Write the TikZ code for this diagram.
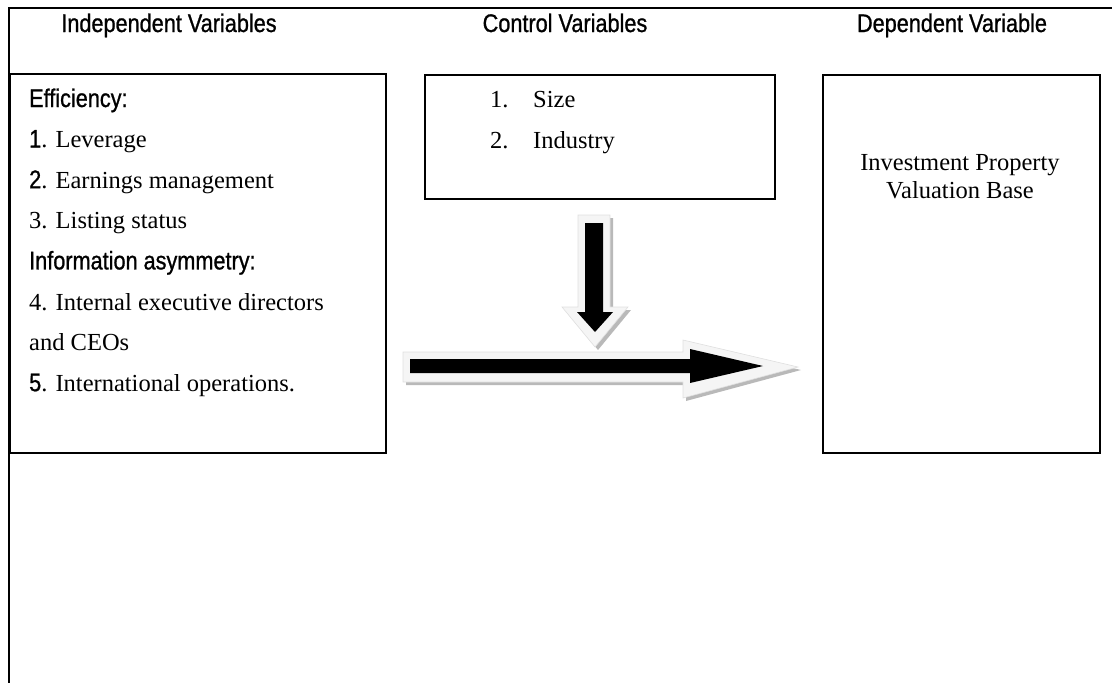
\documentclass[tikz,border=0pt]{standalone}
\usepackage{fontspec}
\setmainfont{Liberation Serif}
\newfontfamily\varfont[FakeStretch=0.85, FakeBold=0.9]{Liberation Sans}
\newcommand\varsf{\varfont\fontsize{25.5}{30}\selectfont}
\usetikzlibrary{positioning}

\begin{document}
\begin{tikzpicture}[
		x=1pt, y=-1pt,
		frame/.style={line width=2.2pt},
		box/.style={draw, line width=1.8pt, inner sep=0pt, anchor=north west},
		head/.style={anchor=base, inner sep=0pt, font=\varsf},
		item/.style={anchor=base west, inner sep=0pt, font=\fontsize{24.5}{28}\selectfont},
		shadow/.style={fill=gray!55},
		rim/.style={fill=gray!8, draw=gray!25, line width=0.6pt},
		core/.style={fill=black},
	]
		\useasboundingbox (0,0) rectangle (1112,683);
		\draw[frame] (9,683) -- (9,8) -- (1112,8);

		% headings
		\node [head] (indep head) at (169,32) {Independent Variables};
		\node [head] (ctrl head) at (565,32) {Control Variables};
		\node [head] (dep head) at (952,32) {Dependent Variable};

		% boxes
		\node [box, minimum width=376pt, minimum height=379pt] (indep) at (9,73) {};
		\node [box, minimum width=350pt, minimum height=124pt] (ctrl) at (424,74) {};
		\node [box, minimum width=277pt, minimum height=378pt] (dep) at (822,74) {};

		\foreach \txt [count=\i] in {{\varsf Efficiency:}, {{\varsf 1}. Leverage}, {{\varsf 2}. Earnings management},
				{3. Listing status}, {\varsf Information asymmetry:}, {4. Internal executive directors},
				{and CEOs}, {{\varsf 5}. International operations.}}
			\node [item] (indep-\i) at (29,{107+40.6*(\i-1)}) {\txt};

		\node [item] (ctrl-n1) at (490,107) {1.};
		\node [item] (ctrl-1) at (533,107) {Size};
		\node [item] (ctrl-n2) at (490,148) {2.};
		\node [item] (ctrl-2) at (533,148) {Industry};

		\node [item, anchor=base] (dep-1) at (960,170) {Investment Property};
		\node [item, anchor=base] (dep-2) at (960,198) {Valuation Base};

		% block arrows
		\fill[shadow, shift={(3,3)}] (578,215) -- (610,215) -- (610,307) -- (628,307) -- (595,347) -- (562,307) -- (578,307) -- cycle;
		\filldraw[rim] (578,215) -- (610,215) -- (610,307) -- (628,307) -- (595,347) -- (562,307) -- (578,307) -- cycle;
		\fill[core] (585,223) -- (603,223) -- (603,312) -- (613,312) -- (595,332) -- (577,312) -- (585,312) -- cycle;

		\fill[shadow, shift={(3,3)}] (403,352) -- (683,352) -- (683,340) -- (798,367) -- (683,398) -- (683,382) -- (403,382) -- cycle;
		\filldraw[rim] (403,352) -- (683,352) -- (683,340) -- (798,367) -- (683,398) -- (683,382) -- (403,382) -- cycle;
		\fill[core] (410,359) -- (690,359) -- (690,349) -- (763,366) -- (690,383) -- (690,373) -- (410,373) -- cycle;
	\end{tikzpicture}
\end{document}
